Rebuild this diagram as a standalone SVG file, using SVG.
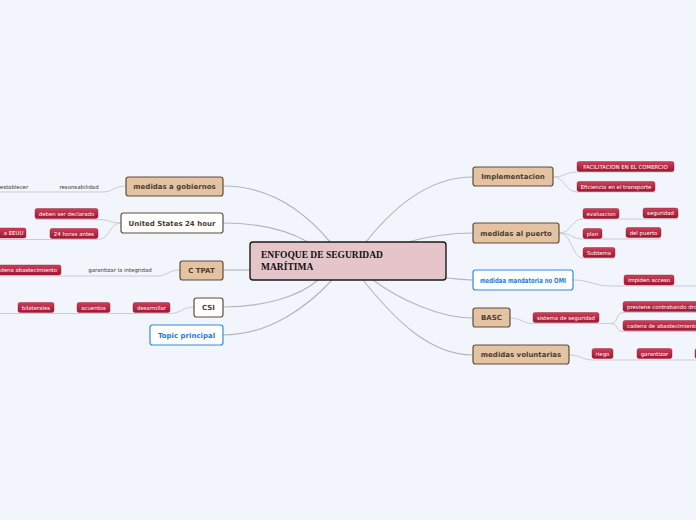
<svg xmlns="http://www.w3.org/2000/svg" width="696" height="520" viewBox="0 0 696 520">
<defs>
<linearGradient id="rg" x1="0" y1="0" x2="0" y2="1">
<stop offset="0" stop-color="#cc3f5a"/>
<stop offset="1" stop-color="#a01630"/>
</linearGradient>
<style>
.conn{fill:none;stroke:#b5b5bd;stroke-width:1.2}
.sc{fill:none;stroke:#c9cbd4;stroke-width:1}
.tan{fill:#e4c3a2;stroke:#5e4d3d;stroke-width:1.2}
.wh{fill:#ffffff;stroke:#5e4d3d;stroke-width:1.2}
.bl{fill:#ffffff;stroke:#2f8ce8;stroke-width:1.2}
.nt{font-family:"DejaVu Sans",Verdana,sans-serif;font-weight:bold;font-size:7px;fill:#4d3d2f;text-anchor:middle}
.bt{fill:#1f7ae0}
.rb{fill:url(#rg);stroke:#96142b;stroke-width:0.4}
.rt{font-family:"DejaVu Sans",Verdana,sans-serif;font-size:5.4px;fill:#ffffff;text-anchor:middle}
.rs{text-anchor:start}
.dt{font-family:"DejaVu Sans",Verdana,sans-serif;font-size:5.4px;fill:#333333;text-anchor:middle}
.ct{font-family:"Liberation Serif","Times New Roman",serif;font-weight:bold;font-size:9.5px;fill:#111111}
</style>
</defs>
<rect width="696" height="520" fill="#f3f5fd"/>
<g id="connectors">
<path class="conn" d="M223,186 C270,186 305,212 330,242"/>
<path class="conn" d="M223,223 C262,223 290,232 308,242"/>
<path class="conn" d="M223,270 L250,270"/>
<path class="conn" d="M223,307 C265,307 300,296 318,280"/>
<path class="conn" d="M223,335 C270,335 308,306 332,280"/>
<path class="conn" d="M366,242 C395,205 430,177 473,177"/>
<path class="conn" d="M408,242 C430,236 450,233 473,233"/>
<path class="conn" d="M446,278 C458,279 465,280 473,280"/>
<path class="conn" d="M373,280 C400,300 440,318 473,318"/>
<path class="conn" d="M363,280 C395,320 430,355 473,355"/>
<path class="sc" d="M126,186 C114,186 114,192 102,192 L0,192"/>
<path class="sc" d="M121,223 C109,223 110,219.5 98,219.5 L35,219.5"/>
<path class="sc" d="M121,223 C109,223 110,239.5 98,239.5 L0,239.5"/>
<path class="sc" d="M180,270 C168,270 168,276 156,276 L0,276"/>
<path class="sc" d="M194,307 C182,307 181,313.5 170,313.5 L0,313.5"/>
<path class="sc" d="M553,177 C565,177 565,172 577,172 L674,172"/>
<path class="sc" d="M553,177 C565,177 565,192 577,192 L655,192"/>
<path class="sc" d="M559,233 C572,233 571,219 583,219 L678,219"/>
<path class="sc" d="M559,233 C572,233 571,239 583,239 L661,239"/>
<path class="sc" d="M559,233 C572,233 572,258 583,258 L615,258"/>
<path class="sc" d="M573,280 C590,280 595,286 610,286 L696,286"/>
<path class="sc" d="M510,318 C522,318 522,323.5 533,323.5 L610,323.5"/>
<path class="sc" d="M610,323.5 C620,323.5 614,312.5 624,312.5 L696,312.5"/>
<path class="sc" d="M610,323.5 C620,323.5 614,331.5 624,331.5 L696,331.5"/>
<path class="sc" d="M569,355 C581,355 582,360 594,360 L696,360"/>
</g>
<g id="center">
<rect x="250" y="242" width="196" height="38" rx="3" fill="#e6c5ca" stroke="#1a1a1a" stroke-width="1.4"/>
<text class="ct" x="261" y="258">ENFOQUE DE SEGURIDAD</text>
<text class="ct" x="261" y="270">MARÍTIMA</text>
</g>
<g id="n-gobiernos"><rect class="tan" x="126" y="177" width="97" height="19" rx="2.5"/><text class="nt" x="174.5" y="189">medidas a gobiernos</text></g>
<g id="n-us"><rect class="wh" x="121" y="213" width="102" height="20" rx="2.5"/><text class="nt" x="172" y="225.5">United States 24 hour</text></g>
<g id="n-ctpat"><rect class="tan" x="180" y="261" width="43" height="19" rx="2.5"/><text class="nt" x="201.5" y="273">C TPAT</text></g>
<g id="n-csi"><rect class="wh" x="194" y="298" width="29" height="19" rx="2.5"/><text class="nt" x="208.5" y="310">CSI</text></g>
<g id="n-topic"><rect class="bl" x="150" y="325" width="73" height="20" rx="2.5"/><text class="nt bt" x="186.5" y="337.5">Topic principal</text></g>
<g id="n-impl"><rect class="tan" x="473" y="167" width="80" height="19" rx="2.5"/><text class="nt" x="513" y="179">Implementacion</text></g>
<g id="n-puerto"><rect class="tan" x="473" y="223" width="86" height="20" rx="2.5"/><text class="nt" x="516" y="235.5">medidas al puerto</text></g>
<g id="n-omi"><rect class="bl" x="473" y="270" width="100" height="20" rx="2.5"/><text class="nt bt" x="523" y="282.5" textLength="86" lengthAdjust="spacingAndGlyphs">medidaa mandatoria no OMI</text></g>
<g id="n-basc"><rect class="tan" x="473" y="308" width="37" height="19" rx="2.5"/><text class="nt" x="491.5" y="320">BASC</text></g>
<g id="n-voluntarias"><rect class="tan" x="473" y="345" width="96" height="19" rx="2.5"/><text class="nt" x="521" y="357">medidas voluntarias</text></g>
<g id="s-establecer"><text class="dt" x="14" y="189">establecer</text></g>
<g id="s-resp"><text class="dt" x="79" y="189">resonsabilidad</text></g>
<g id="s-deben"><rect class="rb" x="35" y="208.5" width="63" height="10" rx="2"/><text class="rt" x="66.5" y="215.5">deben ser declarado</text></g>
<g id="s-24"><rect class="rb" x="50" y="228.5" width="48" height="10" rx="2"/><text class="rt" x="74" y="235.5">24 horas antes</text></g>
<g id="s-eeuu"><rect class="rb" x="-12" y="228" width="38" height="10" rx="2"/><text class="rt" x="13.5" y="235">a EEUU</text></g>
<g id="s-cadena"><rect class="rb" x="-10" y="265" width="71" height="10" rx="2"/><text class="rt" x="25.5" y="272">cadena abastecimiento</text></g>
<g id="s-garantizar-int"><text class="dt" x="120" y="272">garantizar la integridad</text></g>
<g id="s-bilaterales"><rect class="rb" x="18" y="302.5" width="36" height="10" rx="2"/><text class="rt" x="36" y="309.5">bilaterales</text></g>
<g id="s-acuerdos"><rect class="rb" x="77" y="302.5" width="33" height="10" rx="2"/><text class="rt" x="93.5" y="309.5">acuerdos</text></g>
<g id="s-desarrollar"><rect class="rb" x="133" y="302.5" width="37" height="10" rx="2"/><text class="rt" x="151.5" y="309.5">desarrollar</text></g>
<g id="s-facil"><rect class="rb" x="577" y="161.5" width="97" height="10" rx="2"/><text class="rt" x="625.5" y="168.5" font-size="5">FACILITACION EN EL COMERCIO</text></g>
<g id="s-efic"><rect class="rb" x="577" y="181.5" width="78" height="10" rx="2"/><text class="rt" x="616" y="188.5">Eficiencia en el transporte</text></g>
<g id="s-evaluacion"><rect class="rb" x="583" y="208.5" width="36" height="10" rx="2"/><text class="rt" x="601" y="215.5">evaluacion</text></g>
<g id="s-seguridad"><rect class="rb" x="643" y="208" width="35" height="10" rx="2"/><text class="rt" x="660.5" y="215">seguridad</text></g>
<g id="s-plan"><rect class="rb" x="583" y="228.5" width="19" height="10" rx="2"/><text class="rt" x="592.5" y="235.5">plan</text></g>
<g id="s-delpuerto"><rect class="rb" x="626" y="227.5" width="35" height="10" rx="2"/><text class="rt" x="643.5" y="234.5">del puerto</text></g>
<g id="s-subtema"><rect class="rb" x="583" y="247.5" width="32" height="10" rx="2"/><text class="rt" x="599" y="254.5">Subtema</text></g>
<g id="s-impiden"><rect class="rb" x="624" y="275" width="50" height="10" rx="2"/><text class="rt" x="649" y="282">impiden acceso</text></g>
<g id="s-sistema"><rect class="rb" x="533" y="312.5" width="66" height="10" rx="2"/><text class="rt" x="566" y="319.5">sistema de seguridad</text></g>
<g id="s-previene"><rect class="rb" x="623" y="301.5" width="80" height="10" rx="2"/><text class="rt rs" x="627" y="308.5">previene contrabando drogas</text></g>
<g id="s-cadena2"><rect class="rb" x="623" y="320.5" width="80" height="10" rx="2"/><text class="rt rs" x="627" y="327.5">cadena de abastecimiento</text></g>
<g id="s-riego"><rect class="rb" x="592" y="348.5" width="21" height="10" rx="2"/><text class="rt" x="602.5" y="355.5">riego</text></g>
<g id="s-garantizar"><rect class="rb" x="637" y="348.5" width="35" height="10" rx="2"/><text class="rt" x="654.5" y="355.5">garantizar</text></g>
<g id="s-partial"><rect class="rb" x="695" y="348.5" width="20" height="10" rx="2"/></g>
</svg>
